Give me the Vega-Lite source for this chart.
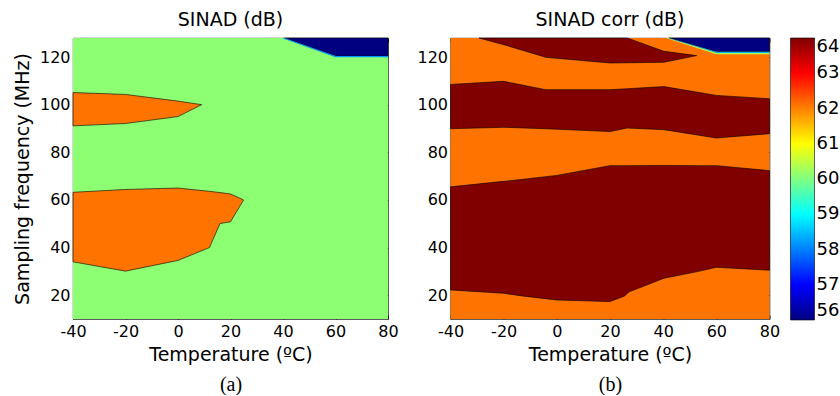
{
  "$schema": "https://vega.github.io/schema/vega-lite/v6.json",
  "padding": {"left": 13, "top": 10, "right": 0, "bottom": 0},
  "background": "white",
  "config": {
    "font": "DejaVu Sans",
    "view": {"stroke": "black", "strokeWidth": 0.8},
    "axis": {
      "labelFont": "DejaVu Sans", "labelFontSize": 16, "labelColor": "black",
      "titleFont": "DejaVu Sans", "titleFontSize": 19, "titleFontWeight": "normal", "titleColor": "black",
      "grid": false, "domain": false, "tickColor": "black", "tickSize": -4, "tickWidth": 0.8,
      "labelFlush": false, "labelOverlap": false, "labelExpr": "'' + datum.value"
    },
    "axisX": {"labelPadding": 8, "titlePadding": 6},
    "axisY": {"labelPadding": 7, "titlePadding": 6.5},
    "title": {"font": "DejaVu Sans", "fontSize": 19, "fontWeight": "normal", "color": "black", "anchor": "middle", "frame": "group", "baseline": "bottom", "offset": 7},
    "legend": {
      "orient": "right", "offset": 19, "padding": 0,
      "gradientLength": 282, "gradientThickness": 24,
      "gradientStrokeColor": "black", "gradientStrokeWidth": 0.6,
      "labelFont": "DejaVu Sans", "labelFontSize": 18, "labelColor": "black", "labelOffset": 4
    }
  },
  "datasets": {
    "a_bg": [
      {"band": "bg", "level": 60.1, "t": -40, "lo": 10, "hi": 128},
      {"band": "bg", "level": 60.1, "t": 80, "lo": 10, "hi": 128}
    ],
    "a_bands": [
      {"band": "o1", "level": 62.1, "t": -40, "lo": 91.1, "hi": 105.1},
      {"band": "o1", "level": 62.1, "t": -20, "lo": 92.1, "hi": 104.3},
      {"band": "o1", "level": 62.1, "t": 0, "lo": 95.0, "hi": 101.5},
      {"band": "o1", "level": 62.1, "t": 9, "lo": 100, "hi": 100},
      {"band": "o2", "level": 62.1, "t": -40, "lo": 34.0, "hi": 63.2},
      {"band": "o2", "level": 62.1, "t": -20, "lo": 30.1, "hi": 64.4},
      {"band": "o2", "level": 62.1, "t": 0, "lo": 34.6, "hi": 65.0},
      {"band": "o2", "level": 62.1, "t": 12, "lo": 40.0, "hi": 63.6},
      {"band": "o2", "level": 62.1, "t": 16, "lo": 50.1, "hi": 63.1},
      {"band": "o2", "level": 62.1, "t": 20, "lo": 50.8, "hi": 62.5},
      {"band": "o2", "level": 62.1, "t": 25, "lo": 60, "hi": 60},
      {"band": "blue", "level": 56, "t": 40.5, "lo": 128, "hi": 128},
      {"band": "blue", "level": 56, "t": 60, "lo": 120.4, "hi": 128},
      {"band": "blue", "level": 56, "t": 80, "lo": 120.4, "hi": 128}
    ],
    "a_thin": [
      {"band": "lb", "level": 58.2, "t": 39.5, "lo": 128, "hi": 128},
      {"band": "lb", "level": 58.2, "t": 40.5, "lo": 127.6, "hi": 128},
      {"band": "lb", "level": 58.2, "t": 60, "lo": 119.9, "hi": 120.4},
      {"band": "lb", "level": 58.2, "t": 80, "lo": 119.9, "hi": 120.4}
    ],
    "b_bg": [
      {"band": "bg", "level": 62.1, "t": -40, "lo": 10, "hi": 128},
      {"band": "bg", "level": 62.1, "t": 80, "lo": 10, "hi": 128}
    ],
    "b_bands": [
      {"band": "r1", "level": 64, "t": -29.3, "lo": 128, "hi": 128},
      {"band": "r1", "level": 64, "t": -20, "lo": 125.2, "hi": 128},
      {"band": "r1", "level": 64, "t": -4.2, "lo": 119.9, "hi": 128},
      {"band": "r1", "level": 64, "t": 20, "lo": 117.5, "hi": 128},
      {"band": "r1", "level": 64, "t": 26.5, "lo": 117.6, "hi": 128},
      {"band": "r1", "level": 64, "t": 40.3, "lo": 117.8, "hi": 122.4},
      {"band": "r1", "level": 64, "t": 52.6, "lo": 120.6, "hi": 120.6},
      {"band": "r2", "level": 64, "t": -40, "lo": 89.9, "hi": 108.5},
      {"band": "r2", "level": 64, "t": -20, "lo": 90.5, "hi": 109.8},
      {"band": "r2", "level": 64, "t": -4.2, "lo": 89.9, "hi": 106.3},
      {"band": "r2", "level": 64, "t": 20, "lo": 88.7, "hi": 106.3},
      {"band": "r2", "level": 64, "t": 26.5, "lo": 90.2, "hi": 106.7},
      {"band": "r2", "level": 64, "t": 40.3, "lo": 89.5, "hi": 107.6},
      {"band": "r2", "level": 64, "t": 60, "lo": 86.0, "hi": 103.9},
      {"band": "r2", "level": 64, "t": 80, "lo": 87.8, "hi": 102.5},
      {"band": "r3", "level": 64, "t": -40, "lo": 22.2, "hi": 65.5},
      {"band": "r3", "level": 64, "t": -20, "lo": 20.8, "hi": 67.8},
      {"band": "r3", "level": 64, "t": -12.5, "lo": 19.6, "hi": 68.7},
      {"band": "r3", "level": 64, "t": 0, "lo": 18.0, "hi": 70.3},
      {"band": "r3", "level": 64, "t": 20, "lo": 17.3, "hi": 74.4},
      {"band": "r3", "level": 64, "t": 25.5, "lo": 19.7, "hi": 74.4},
      {"band": "r3", "level": 64, "t": 27.2, "lo": 21.4, "hi": 74.4},
      {"band": "r3", "level": 64, "t": 40.3, "lo": 27.1, "hi": 74.5},
      {"band": "r3", "level": 64, "t": 52.9, "lo": 29.9, "hi": 74.4},
      {"band": "r3", "level": 64, "t": 60, "lo": 31.7, "hi": 74.4},
      {"band": "r3", "level": 64, "t": 80, "lo": 30.5, "hi": 72.3},
      {"band": "blue", "level": 56, "t": 42.2, "lo": 128, "hi": 128},
      {"band": "blue", "level": 56, "t": 60, "lo": 122.2, "hi": 128},
      {"band": "blue", "level": 56, "t": 80, "lo": 122.2, "hi": 128}
    ],
    "b_thin": [
      {"band": "lb", "level": 58.4, "t": 41.6, "lo": 128, "hi": 128},
      {"band": "lb", "level": 58.4, "t": 42.2, "lo": 127.8, "hi": 128},
      {"band": "lb", "level": 58.4, "t": 60, "lo": 121.7, "hi": 122.2},
      {"band": "lb", "level": 58.4, "t": 80, "lo": 121.7, "hi": 122.2},
      {"band": "gy", "level": 60.4, "t": 41.0, "lo": 128, "hi": 128},
      {"band": "gy", "level": 60.4, "t": 41.6, "lo": 127.8, "hi": 128},
      {"band": "gy", "level": 60.4, "t": 60, "lo": 121.2, "hi": 121.7},
      {"band": "gy", "level": 60.4, "t": 80, "lo": 121.2, "hi": 121.7}
    ]
  },
  "spacing": 17.5,
  "resolve": {"scale": {"fill": "independent"}},
  "hconcat": [
    {
      "width": 315, "height": 281,
      "title": {"text": "SINAD (dB)"},
      "resolve": {"axis": {"x": "independent", "y": "independent"}},
      "layer": [
        {
          "data": {"name": "a_bg"},
          "mark": {"type": "area", "strokeWidth": 0},
          "encoding": {
            "x": {"field": "t", "type": "quantitative", "scale": {"domain": [-40, 80], "nice": false, "zero": false},
                  "axis": {"values": [-40, -20, 0, 20, 40, 60, 80], "title": "Temperature (ºC)"}},
            "y": {"field": "lo", "type": "quantitative", "stack": null, "scale": {"domain": [10, 128], "nice": false, "zero": false},
                  "axis": {"values": [20, 40, 60, 80, 100, 120], "title": "Sampling frequency (MHz)"}},
            "y2": {"field": "hi"},
            "detail": {"field": "band"},
            "fill": {"field": "level", "type": "quantitative", "legend": null,
                     "scale": {"domain": [56, 57, 58, 59, 60, 61, 62, 63, 64], "range": ["#000080", "#0000ff", "#0080ff", "#00ffff", "#80ff80", "#ffff00", "#ff8000", "#ff0000", "#800000"], "interpolate": "rgb"}}
          }
        },
        {
          "data": {"name": "a_bands"},
          "mark": {"type": "area", "stroke": "black", "strokeWidth": 0.6},
          "encoding": {
            "x": {"field": "t", "type": "quantitative", "scale": {"domain": [-40, 80], "nice": false, "zero": false},
                  "axis": {"orient": "top", "values": [-40, -20, 0, 20, 40, 60, 80], "labels": false, "title": null}},
            "y": {"field": "lo", "type": "quantitative", "stack": null, "scale": {"domain": [10, 128], "nice": false, "zero": false},
                  "axis": {"orient": "right", "values": [20, 40, 60, 80, 100, 120], "labels": false, "title": null}},
            "y2": {"field": "hi"},
            "detail": {"field": "band"},
            "fill": {"field": "level", "type": "quantitative", "legend": null,
                     "scale": {"domain": [56, 57, 58, 59, 60, 61, 62, 63, 64], "range": ["#000080", "#0000ff", "#0080ff", "#00ffff", "#80ff80", "#ffff00", "#ff8000", "#ff0000", "#800000"], "interpolate": "rgb"}}
          }
        },
        {
          "data": {"name": "a_thin"},
          "mark": {"type": "area", "strokeWidth": 0},
          "encoding": {
            "x": {"field": "t", "type": "quantitative", "scale": {"domain": [-40, 80], "nice": false, "zero": false},
                  "axis": {"orient": "bottom", "title": "(a)", "labels": false, "ticks": false, "domain": false, "titleFont": "Liberation Serif", "titleFontSize": 20, "titlePadding": 55}},
            "y": {"field": "lo", "type": "quantitative", "stack": null, "scale": {"domain": [10, 128], "nice": false, "zero": false}, "axis": null},
            "y2": {"field": "hi"},
            "detail": {"field": "band"},
            "fill": {"field": "level", "type": "quantitative", "legend": null,
                     "scale": {"domain": [56, 57, 58, 59, 60, 61, 62, 63, 64], "range": ["#000080", "#0000ff", "#0080ff", "#00ffff", "#80ff80", "#ffff00", "#ff8000", "#ff0000", "#800000"], "interpolate": "rgb"}}
          }
        }
      ]
    },
    {
      "width": 319, "height": 281,
      "title": {"text": "SINAD corr (dB)"},
      "resolve": {"axis": {"x": "independent", "y": "independent"}},
      "layer": [
        {
          "data": {"name": "b_bg"},
          "mark": {"type": "area", "strokeWidth": 0},
          "encoding": {
            "x": {"field": "t", "type": "quantitative", "scale": {"domain": [-40, 80], "nice": false, "zero": false},
                  "axis": {"values": [-40, -20, 0, 20, 40, 60, 80], "title": "Temperature (ºC)"}},
            "y": {"field": "lo", "type": "quantitative", "stack": null, "scale": {"domain": [10, 128], "nice": false, "zero": false},
                  "axis": {"values": [20, 40, 60, 80, 100, 120], "title": null}},
            "y2": {"field": "hi"},
            "detail": {"field": "band"},
            "fill": {"field": "level", "type": "quantitative",
                     "legend": {"title": null, "values": [56, 57, 58, 59, 60, 61, 62, 63, 64], "direction": "vertical", "type": "gradient"},
                     "scale": {"domain": [56, 57, 58, 59, 60, 61, 62, 63, 64], "range": ["#000080", "#0000ff", "#0080ff", "#00ffff", "#80ff80", "#ffff00", "#ff8000", "#ff0000", "#800000"], "interpolate": "rgb"}}
          }
        },
        {
          "data": {"name": "b_bands"},
          "mark": {"type": "area", "stroke": "black", "strokeWidth": 0.6},
          "encoding": {
            "x": {"field": "t", "type": "quantitative", "scale": {"domain": [-40, 80], "nice": false, "zero": false},
                  "axis": {"orient": "top", "values": [-40, -20, 0, 20, 40, 60, 80], "labels": false, "title": null}},
            "y": {"field": "lo", "type": "quantitative", "stack": null, "scale": {"domain": [10, 128], "nice": false, "zero": false},
                  "axis": {"orient": "right", "values": [20, 40, 60, 80, 100, 120], "labels": false, "title": null}},
            "y2": {"field": "hi"},
            "detail": {"field": "band"},
            "fill": {"field": "level", "type": "quantitative",
                     "legend": {"title": null, "values": [56, 57, 58, 59, 60, 61, 62, 63, 64], "direction": "vertical", "type": "gradient"},
                     "scale": {"domain": [56, 57, 58, 59, 60, 61, 62, 63, 64], "range": ["#000080", "#0000ff", "#0080ff", "#00ffff", "#80ff80", "#ffff00", "#ff8000", "#ff0000", "#800000"], "interpolate": "rgb"}}
          }
        },
        {
          "data": {"name": "b_thin"},
          "mark": {"type": "area", "strokeWidth": 0},
          "encoding": {
            "x": {"field": "t", "type": "quantitative", "scale": {"domain": [-40, 80], "nice": false, "zero": false},
                  "axis": {"orient": "bottom", "title": "(b)", "labels": false, "ticks": false, "domain": false, "titleFont": "Liberation Serif", "titleFontSize": 20, "titlePadding": 55}},
            "y": {"field": "lo", "type": "quantitative", "stack": null, "scale": {"domain": [10, 128], "nice": false, "zero": false}, "axis": null},
            "y2": {"field": "hi"},
            "detail": {"field": "band"},
            "fill": {"field": "level", "type": "quantitative",
                     "legend": {"title": null, "values": [56, 57, 58, 59, 60, 61, 62, 63, 64], "direction": "vertical", "type": "gradient"},
                     "scale": {"domain": [56, 57, 58, 59, 60, 61, 62, 63, 64], "range": ["#000080", "#0000ff", "#0080ff", "#00ffff", "#80ff80", "#ffff00", "#ff8000", "#ff0000", "#800000"], "interpolate": "rgb"}}
          }
        }
      ]
    }
  ]
}
